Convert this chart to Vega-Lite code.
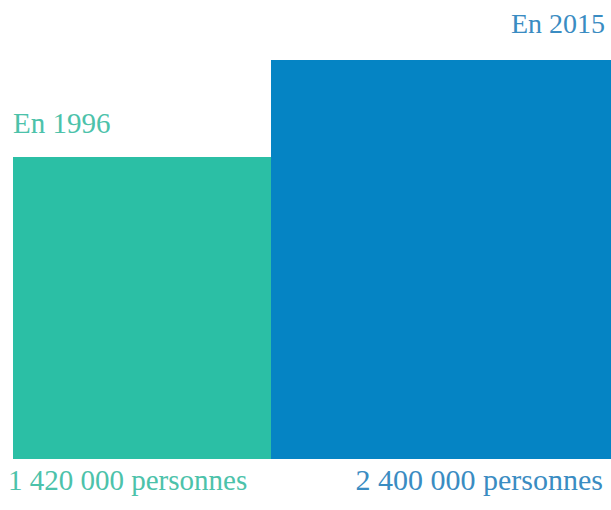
{
  "$schema": "https://vega.github.io/schema/vega-lite/v6.json",
  "width": 598,
  "height": 510,
  "autosize": {"type": "none"},
  "padding": {"left": 13, "top": 0, "right": 0, "bottom": 0},
  "background": "white",
  "config": {"view": {"stroke": null}},
  "data": {
    "values": [
      {"annee": "En 1996", "label": "1 420 000 personnes", "personnes": 1420000, "w": 0.7588, "h": 0.757},
      {"annee": "En 2015", "label": "2 400 000 personnes", "personnes": 2400000, "w": 1.0, "h": 1.0}
    ]
  },
  "transform": [
    {"stack": "w", "groupby": [], "sort": [{"field": "annee", "order": "ascending"}], "as": ["x0", "x1"]}
  ],
  "encoding": {
    "color": {
      "field": "annee", "type": "nominal", "legend": null,
      "scale": {"domain": ["En 1996", "En 2015"], "range": ["#2bbfa5", "#0584c4"]}
    }
  },
  "layer": [
    {
      "mark": {"type": "bar", "opacity": 1},
      "encoding": {
        "x": {"field": "x0", "type": "quantitative", "axis": null, "scale": {"domain": [0, 1.7588], "nice": false, "zero": false}},
        "x2": {"field": "x1"},
        "y": {"field": "h", "type": "quantitative", "axis": null, "scale": {"domain": [-0.1278, 1.1504], "nice": false, "zero": false}},
        "y2": {"datum": 0}
      }
    },
    {
      "transform": [{"filter": "datum.annee == 'En 1996'"}],
      "mark": {"type": "text", "align": "left", "baseline": "alphabetic", "dy": -24, "font": "Liberation Serif", "fontSize": 29},
      "encoding": {
        "x": {"field": "x0", "type": "quantitative"},
        "y": {"field": "h", "type": "quantitative"},
        "text": {"field": "annee"},
        "color": {"value": "#4cc2aa"}
      }
    },
    {
      "transform": [{"filter": "datum.annee == 'En 2015'"}],
      "mark": {"type": "text", "align": "right", "baseline": "alphabetic", "dy": -27, "dx": -6, "font": "Liberation Serif", "fontSize": 28},
      "encoding": {
        "x": {"field": "x1", "type": "quantitative"},
        "y": {"field": "h", "type": "quantitative"},
        "text": {"field": "annee"},
        "color": {"value": "#3a8cc2"}
      }
    },
    {
      "transform": [{"filter": "datum.annee == 'En 1996'"}],
      "mark": {"type": "text", "align": "left", "baseline": "alphabetic", "dy": 31, "dx": -5, "font": "Liberation Serif", "fontSize": 29},
      "encoding": {
        "x": {"field": "x0", "type": "quantitative"},
        "y": {"datum": 0},
        "text": {"field": "label"},
        "color": {"value": "#4cc2aa"}
      }
    },
    {
      "transform": [{"filter": "datum.annee == 'En 2015'"}],
      "mark": {"type": "text", "align": "right", "baseline": "alphabetic", "dy": 31, "dx": -8, "font": "Liberation Serif", "fontSize": 30},
      "encoding": {
        "x": {"field": "x1", "type": "quantitative"},
        "y": {"datum": 0},
        "text": {"field": "label"},
        "color": {"value": "#3a8cc2"}
      }
    }
  ]
}
